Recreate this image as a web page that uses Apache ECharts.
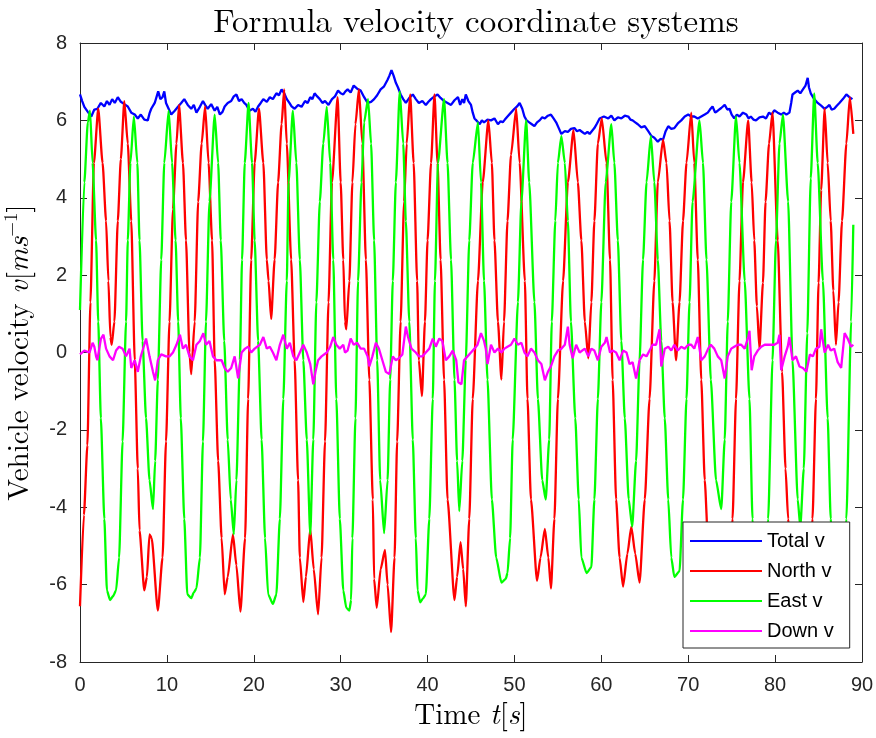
<!DOCTYPE html>
<html>
<head>
<meta charset="utf-8">
<script src="https://cdn.jsdelivr.net/npm/echarts@6/dist/echarts.min.js"></script>
<style>
  html, body { margin: 0; padding: 0; background: #ffffff; }
  #chart { width: 876px; height: 738px; }
</style>
</head>
<body>
<div id="chart"></div>
<script>
// Axis ranges and tick steps
const timeRange = [0, 90];
const timeStep = 10;
const velRange = [-8, 8];
const velStep = 2;

const seriesNames = ['Total v', 'North v', 'East v', 'Down v'];

// [time s, velocity m/s]
const totalV = [
  [0,6.67],[0.25,6.5],[0.5,6.35],[0.9,6.22],[1.3,6.1],[1.65,6.28],[2.0,6.3],[2.4,6.45],[2.8,6.36],[3.1,6.5],
  [3.4,6.4],[3.7,6.55],[4.0,6.45],[4.35,6.6],[4.7,6.48],[5.1,6.42],[5.5,6.36],[5.9,6.2],[6.3,6.15],[6.65,6.05],
  [7.0,6.15],[7.4,6.02],[7.8,6.0],[8.0,6.18],[8.2,6.3],[8.6,6.45],[9.0,6.75],[9.25,6.55],[9.5,6.6],[9.7,6.75],
  [9.9,6.45],[10.2,6.3],[10.5,6.15],[10.9,6.25],[11.3,6.36],[11.65,6.45],[12.0,6.55],[12.4,6.4],[12.8,6.3],[13.1,6.4],
  [13.4,6.2],[13.8,6.35],[14.15,6.5],[14.4,6.4],[14.7,6.3],[15.1,6.42],[15.5,6.25],[15.8,6.35],[16.1,6.15],[16.4,6.22],
  [16.65,6.36],[17.0,6.45],[17.4,6.5],[17.7,6.62],[18.0,6.67],[18.3,6.5],[18.6,6.55],[18.9,6.45],[19.15,6.4],[19.5,6.25],
  [19.9,6.3],[20.2,6.22],[20.5,6.36],[20.8,6.45],[21.1,6.55],[21.5,6.48],[21.85,6.6],[22.2,6.55],[22.6,6.7],[22.9,6.65],
  [23.2,6.8],[23.5,6.7],[23.8,6.55],[24.1,6.45],[24.35,6.36],[24.7,6.3],[25.1,6.4],[25.5,6.35],[25.9,6.5],[26.2,6.45],
  [26.5,6.6],[26.75,6.55],[27.0,6.7],[27.3,6.62],[27.6,6.55],[27.9,6.45],[28.2,6.5],[28.6,6.4],[29.0,6.55],[29.35,6.62],
  [29.7,6.77],[30.0,6.7],[30.3,6.67],[30.55,6.75],[30.8,6.8],[31.15,6.72],[31.5,6.9],[31.9,6.82],[32.3,6.77],[32.7,6.6],
  [33.1,6.45],[33.5,6.48],[33.85,6.55],[34.2,6.65],[34.6,6.8],[35.0,6.88],[35.4,7.05],[35.6,7.15],[35.85,7.3],[36.1,7.15],
  [36.35,6.97],[36.6,6.85],[36.9,6.67],[37.2,6.55],[37.5,6.45],[37.9,6.58],[38.3,6.67],[38.65,6.55],[39.0,6.45],[39.4,6.5],
  [39.8,6.4],[40.1,6.48],[40.4,6.55],[40.8,6.62],[41.15,6.67],[41.5,6.58],[41.9,6.5],[42.3,6.45],[42.7,6.4],[43.1,6.52],
  [43.5,6.6],[43.75,6.4],[44.0,6.55],[44.2,6.45],[44.4,6.67],[44.7,6.5],[45.0,6.4],[45.2,6.2],[45.4,6.05],[45.7,5.98],
  [46.0,5.9],[46.25,6.0],[46.5,5.95],[46.9,6.02],[47.3,6.0],[47.7,6.05],[48.1,5.9],[48.4,5.98],[48.65,5.95],[48.9,6.02],
  [49.2,6.1],[49.6,6.2],[50.0,6.3],[50.3,6.36],[50.6,6.45],[50.9,6.3],[51.15,6.1],[51.4,6.0],[51.7,5.95],[52.0,5.9],
  [52.3,5.85],[52.6,5.95],[52.9,6.0],[53.2,6.08],[53.5,6.05],[53.85,6.12],[54.2,6.15],[54.5,6.05],[54.8,5.95],[55.1,5.8],
  [55.4,5.65],[55.8,5.72],[56.15,5.7],[56.5,5.78],[56.9,5.8],[57.2,5.72],[57.5,5.75],[57.8,5.7],[58.1,5.65],[58.4,5.7],
  [58.65,5.65],[58.9,5.72],[59.2,5.8],[59.5,5.92],[59.8,6.05],[60.3,6.1],[60.8,6.05],[61.15,6.12],[61.5,6.0],[61.9,6.08],
  [62.3,6.05],[62.7,6.12],[63.1,6.1],[63.35,6.02],[63.6,6.0],[63.9,5.95],[64.2,5.9],[64.6,5.82],[65.0,5.85],[65.4,5.72],
  [65.75,5.6],[66.1,5.55],[66.5,5.45],[66.8,5.52],[67.1,5.5],[67.4,5.72],[67.7,5.85],[68.05,5.78],[68.4,5.8],[68.8,5.92],
  [69.2,6.0],[69.6,6.1],[70.0,6.15],[70.35,6.1],[70.7,6.1],[71.1,6.05],[71.5,6.1],[71.9,6.15],[72.25,6.2],[72.5,6.28],
  [72.8,6.36],[73.1,6.2],[73.4,6.25],[73.8,6.32],[74.2,6.4],[74.5,6.28],[74.75,6.3],[75.0,6.15],[75.3,6.05],[75.6,6.15],
  [75.9,6.1],[76.3,6.2],[76.7,6.15],[76.95,6.05],[77.2,6.1],[77.5,6.02],[77.8,6.0],[78.2,6.08],[78.6,6.1],[78.95,6.05],
  [79.3,6.2],[79.6,6.15],[79.9,6.26],[80.3,6.2],[80.7,6.15],[81.0,6.2],[81.3,6.15],[81.5,6.15],[81.65,6.2],[81.85,6.45],
  [82.0,6.67],[82.3,6.72],[82.6,6.77],[82.9,6.7],[83.2,6.8],[83.5,6.9],[83.75,7.1],[83.9,6.85],[84.1,6.7],[84.5,6.55],
  [84.9,6.45],[85.3,6.38],[85.7,6.3],[86.0,6.35],[86.25,6.4],[86.5,6.28],[86.8,6.3],[87.1,6.38],[87.4,6.45],[87.8,6.55],
  [88.2,6.67],[88.55,6.6],[88.9,6.55]
];

const northV = [
  [0,-6.56],[0.45,-4.2],[0.85,-2.4],[1.2,1.3],[1.6,4.9],[2.1,6.3],[2.6,4.9],[3.0,3.4],[3.27,1.85],[3.5,0.4],
  [3.65,0.2],[3.96,0.8],[4.35,3.4],[4.7,5.0],[5.1,6.5],[5.5,5.4],[5.9,3.4],[6.3,-0.2],[6.65,-3.0],[6.85,-4.6],
  [7.4,-6.15],[7.7,-5.8],[8.0,-4.7],[8.25,-4.8],[8.96,-6.67],[9.5,-5.3],[9.9,-2.3],[10.3,0.8],[10.7,3.7],[11.1,5.4],
  [11.4,6.4],[11.85,4.9],[12.2,2.9],[12.6,0],[12.8,-0.56],[13.2,0.8],[13.6,3.9],[14.0,5.4],[14.4,6.36],[14.8,4.9],
  [15.2,2.9],[15.5,-0.2],[15.9,-2.8],[16.3,-4.8],[16.65,-6.25],[17.0,-5.8],[17.6,-4.7],[18.0,-5.5],[18.46,-6.7],[19.0,-4.8],
  [19.35,-1.2],[19.7,2.4],[20.1,4.9],[20.6,6.3],[21.1,4.9],[21.5,2.4],[21.7,1.85],[22.0,0.87],[22.4,2.4],[22.8,4.4],
  [23.2,5.9],[23.5,6.8],[23.8,5.4],[24.3,2.4],[24.7,-0.2],[25.1,-3.3],[25.3,-5.3],[25.7,-6.45],[26.0,-5.8],[26.5,-4.56],
  [26.9,-5.6],[27.4,-6.77],[27.8,-5.3],[28.2,-2.3],[28.6,1.3],[29.0,4.4],[29.65,6.6],[30.0,4.4],[30.3,2.4],[30.5,0.8],
  [30.65,0.6],[31.0,1.85],[31.35,4.4],[31.7,5.9],[32.1,6.8],[32.5,5.4],[32.9,2.4],[33.3,-0.7],[33.7,-3.8],[33.85,-5.85],
  [34.15,-6.6],[34.6,-5.6],[35.1,-5.1],[35.4,-6.0],[35.8,-7.23],[36.2,-5.3],[36.5,-2.3],[36.9,0.8],[37.3,3.9],[37.6,5.4],
  [38.0,6.67],[38.4,4.9],[38.8,1.85],[39.0,-0.2],[39.35,-1.13],[39.7,0.8],[40.0,2.9],[40.4,4.9],[40.8,6.67],[41.15,4.9],
  [41.5,2.4],[41.9,-0.7],[42.3,-3.8],[43.1,-6.4],[43.4,-5.8],[43.8,-4.9],[44.1,-5.6],[44.4,-6.56],[44.8,-4.3],[45.2,-1.2],
  [45.8,1.85],[46.35,4.4],[47.0,6.0],[47.4,4.9],[47.7,2.9],[48.1,0.8],[48.5,-0.7],[48.8,0.8],[49.2,3.4],[49.6,5.1],
  [50.2,6.3],[50.6,4.9],[51.2,1.85],[51.5,-1.2],[51.9,-3.8],[52.6,-5.9],[53.0,-5.3],[53.5,-4.56],[53.9,-5.3],[54.2,-6.1],
  [54.6,-4.3],[55.0,-1.2],[55.6,1.85],[56.15,4.4],[56.8,5.75],[57.3,4.4],[57.7,2.9],[58.1,0.8],[58.5,-0.15],[58.85,1.3],
  [59.2,3.4],[59.6,5.4],[60.05,6.05],[60.6,4.9],[61.0,2.4],[61.3,-0.7],[61.7,-3.8],[62.1,-5.3],[62.5,-6.05],[63.0,-5.2],
  [63.45,-4.5],[63.9,-5.2],[64.4,-5.95],[65.0,-3.8],[65.55,-1.2],[66.1,1.85],[66.5,4.4],[67.1,5.5],[67.5,4.9],[67.85,3.4],
  [68.2,1.3],[68.6,-0.2],[69.0,1.3],[69.4,3.4],[69.8,4.9],[70.35,6.2],[70.7,4.9],[71.1,2.4],[71.5,-0.7],[71.9,-3.3],
  [72.3,-5.0],[72.8,-6.2],[73.3,-5.3],[73.8,-4.6],[74.3,-5.5],[74.7,-6.3],[75.1,-4.3],[75.5,-1.2],[75.9,1.85],[76.3,4.4],
  [76.9,6.0],[77.3,4.4],[77.6,2.9],[77.9,1.2],[78.2,0.1],[78.6,1.8],[78.9,3.9],[79.3,5.4],[79.7,6.2],[80.3,2.9],
  [80.8,-0.5],[81.2,-3.0],[81.5,-4.3],[82.0,-6.2],[82.5,-5.3],[83.0,-4.7],[83.5,-5.6],[83.9,-6.4],[84.3,-4.3],[84.7,-1.2],
  [85.0,1.8],[85.3,4.2],[85.7,6.3],[86.05,4.9],[86.4,3.4],[86.7,1.6],[87.0,0.2],[87.3,1.3],[87.7,3.4],[88.2,5.4],
  [88.6,6.6],[89.0,5.65]
];

const eastV = [
  [0,1.1],[0.5,4.4],[0.9,5.95],[1.15,6.25],[1.45,4.9],[1.85,2.9],[2.1,0.8],[2.4,-1.7],[2.8,-4.3],[3.1,-6.15],
  [3.46,-6.4],[3.8,-6.3],[4.15,-6.15],[4.5,-5.3],[4.9,-2.3],[5.3,0.8],[5.5,2.9],[5.8,4.9],[6.2,6.1],[6.6,4.9],
  [6.85,2.9],[7.2,0.3],[7.6,-1.7],[8.0,-3.3],[8.4,-4.05],[8.65,-2.8],[8.96,-0.7],[9.35,2.4],[9.7,4.9],[10.2,6.25],
  [10.6,4.9],[11.0,2.9],[11.3,0.8],[11.6,-1.7],[12.0,-4.3],[12.35,-6.25],[12.8,-6.35],[13.1,-6.2],[13.4,-6.1],[13.8,-5.3],
  [14.15,-2.3],[14.5,0.8],[14.9,3.9],[15.5,6.15],[15.9,4.9],[16.2,2.9],[16.6,0.3],[17.0,-2.25],[17.35,-3.8],[17.7,-4.7],
  [18.0,-3.3],[18.4,-0.2],[18.65,2.4],[18.96,4.9],[19.4,6.45],[19.8,4.9],[20.1,2.9],[20.5,0.3],[20.9,-2.25],[21.3,-4.8],
  [21.65,-6.25],[22.2,-6.5],[22.6,-6.25],[23.0,-4.3],[23.4,-1.2],[23.8,1.85],[24.0,4.4],[24.5,6.25],[24.9,4.9],[25.3,2.4],
  [25.7,-0.2],[26.1,-2.25],[26.5,-4.7],[26.85,-2.25],[27.2,1.3],[27.6,3.9],[28.0,5.4],[28.4,6.35],[28.8,4.9],[29.15,2.4],
  [29.5,-1.2],[29.9,-4.3],[30.3,-6.15],[30.65,-6.6],[31.0,-6.67],[31.2,-6.4],[31.35,-4.8],[31.7,-1.7],[32.0,1.85],[32.4,4.4],
  [32.7,5.95],[33.15,6.55],[33.5,5.4],[33.85,2.9],[34.2,-0.2],[34.55,-3.3],[35.0,-4.67],[35.4,-3.3],[35.7,-0.7],[36.0,1.85],
  [36.35,4.4],[36.8,6.75],[37.2,5.4],[37.5,3.4],[37.9,0.8],[38.3,-2.25],[38.65,-4.8],[38.85,-6.15],[39.15,-6.46],[39.5,-6.35],
  [39.8,-6.25],[40.2,-4.3],[40.6,-1.2],[40.85,1.85],[41.2,4.9],[41.9,6.55],[42.3,4.9],[42.7,2.4],[43.1,-0.7],[43.4,-2.8],
  [43.65,-4.1],[44.0,-2.8],[44.4,-0.2],[44.8,2.9],[45.2,4.9],[45.8,5.95],[46.15,4.4],[46.5,1.85],[46.9,-0.7],[47.4,-3.8],
  [47.9,-5.3],[48.5,-5.95],[49.0,-5.85],[49.2,-5.7],[49.5,-4.8],[49.8,-2.25],[50.4,1.3],[50.8,3.9],[51.35,6.0],[51.7,4.4],
  [52.3,1.3],[52.7,-1.2],[53.2,-3.3],[53.6,-3.8],[54.0,-2.25],[54.3,0.8],[54.7,3.4],[55.0,4.9],[55.4,5.6],[55.8,4.9],
  [56.15,3.4],[56.5,0.8],[57.0,-1.7],[57.4,-3.8],[57.7,-5.3],[58.3,-5.7],[58.85,-5.55],[59.2,-3.8],[59.6,-1.2],[60.0,1.3],
  [60.5,4.4],[61.15,5.9],[61.5,4.9],[61.9,2.9],[62.3,0.3],[62.7,-1.7],[63.15,-3.8],[63.55,-4.5],[64.0,-2.8],[64.4,-0.2],
  [64.8,2.4],[65.2,4.4],[65.7,5.6],[66.1,4.4],[66.5,2.4],[66.9,0.3],[67.3,-1.7],[67.7,-3.8],[68.05,-5.3],[68.4,-5.8],
  [69.0,-5.65],[69.4,-3.8],[69.8,-1.2],[70.15,1.3],[70.5,3.9],[71.3,6.0],[71.7,4.9],[72.1,2.4],[72.6,-0.7],[73.2,-3.3],
  [73.8,-4.05],[74.2,-2.25],[74.55,0.8],[74.95,3.9],[75.5,6.1],[75.9,4.9],[76.5,1.85],[77.05,-1.2],[77.4,-4.3],[77.8,-5.7],
  [78.3,-6.0],[78.8,-5.6],[79.2,-4.3],[79.7,-0.2],[80.1,2.9],[80.5,5.4],[80.9,6.15],[81.5,3.9],[82.0,-0.2],[82.6,-3.8],
  [82.9,-4.5],[83.3,-3.0],[83.7,0.5],[84.1,4.5],[84.5,6.7],[84.9,4.9],[85.5,1.85],[86.05,-1.7],[86.4,-4.3],[86.8,-5.8],
  [87.3,-6.0],[87.8,-5.5],[88.2,-4.3],[88.75,0.8],[89.0,3.3]
];

const downV = [
  [0,-0.05],[0.5,0.05],[1.1,0],[1.45,0.25],[1.65,0.15],[1.85,-0.1],[2.0,-0.2],[2.4,0.35],[2.7,0.46],[3.0,0.1],
  [3.4,-0.1],[3.8,-0.2],[4.15,0.05],[4.5,0.15],[4.9,0.1],[5.3,-0.1],[5.7,0.1],[5.9,-0.4],[6.3,-0.2],[6.65,-0.5],
  [7.0,-0.1],[7.4,0.2],[7.6,0.36],[8.0,-0.1],[8.4,-0.5],[8.65,-0.72],[8.96,-0.2],[9.35,-0.05],[9.9,-0.1],[10.3,-0.1],
  [10.7,0],[11.1,0.2],[11.5,0.46],[11.85,0.1],[12.2,0.2],[12.6,-0.1],[13.0,-0.2],[13.4,0.2],[13.8,0.3],[14.2,0.5],
  [14.5,0.2],[14.9,0.3],[15.3,-0.1],[15.7,-0.2],[16.3,-0.2],[16.65,-0.4],[17.0,-0.5],[17.4,-0.4],[17.8,-0.1],[18.2,-0.67],
  [18.6,0],[19.0,0.1],[19.35,0.15],[19.7,0],[20.1,0.1],[20.7,0.2],[21.1,0.4],[21.5,0.1],[21.85,0.15],[22.2,0],
  [22.6,-0.2],[23.0,0.2],[23.4,0.46],[23.8,0.1],[24.15,0.25],[24.55,-0.1],[24.9,-0.2],[25.3,0],[25.7,0.2],[26.1,0],
  [26.5,-0.3],[26.85,-0.82],[27.1,-0.5],[27.4,-0.2],[27.8,-0.1],[28.4,0],[28.8,0.15],[29.15,0.4],[29.5,0.2],[29.9,0.1],
  [30.3,0.2],[30.5,0],[30.8,0.05],[31.15,0.36],[31.5,0.2],[31.9,0.25],[32.3,0.1],[32.7,0.1],[33.1,-0.1],[33.3,-0.36],
  [33.65,-0.1],[34.05,0.25],[34.4,0.1],[34.8,-0.2],[35.2,-0.5],[35.6,-0.56],[36.0,-0.1],[36.35,-0.2],[36.7,-0.15],[37.1,-0.05],
  [37.5,0.67],[37.75,0.4],[38.15,0.1],[38.65,0],[39.0,-0.1],[39.4,-0.1],[39.8,0],[40.2,0.1],[40.6,0.36],[40.95,0.15],
  [41.35,0.36],[41.7,0.3],[42.1,-0.2],[42.5,-0.1],[42.9,0.05],[43.3,-0.2],[43.55,-0.77],[43.9,-0.82],[44.2,-0.2],[44.6,-0.1],
  [45.0,0],[45.4,0.1],[45.75,0.2],[46.15,0.5],[46.5,0.3],[46.7,0.1],[46.9,-0.3],[47.3,0.2],[47.7,0],[48.1,0.1],
  [48.5,0],[48.85,0.1],[49.2,0.15],[49.6,0.2],[50.0,0.36],[50.4,0.2],[50.8,0.25],[51.15,0],[51.5,-0.1],[51.9,0.1],
  [52.3,0],[52.7,-0.2],[53.1,-0.3],[53.5,-0.72],[53.85,-0.5],[54.2,-0.36],[54.6,-0.1],[55.0,0.05],[55.4,0.1],[55.8,0.2],
  [56.15,0.67],[56.35,0.2],[56.7,-0.15],[57.1,0.2],[57.5,0],[58.1,0.1],[58.5,-0.1],[58.85,0.1],[59.2,0.05],[59.6,-0.2],
  [60.0,0.15],[60.4,0.25],[60.6,0.4],[61.0,0],[61.3,0.05],[61.7,0],[62.1,-0.2],[62.5,0.05],[62.9,0],[63.25,-0.3],
  [63.6,-0.25],[64.0,-0.67],[64.4,-0.2],[64.8,-0.05],[65.2,-0.1],[65.55,0.05],[65.9,0.2],[66.3,0.2],[66.7,0.6],[66.9,-0.36],
  [67.3,0.1],[67.7,0.15],[68.05,0.05],[68.4,0.2],[68.8,0.05],[69.2,0.15],[69.6,0.1],[70.0,0.2],[70.35,0.2],[70.7,0.1],
  [71.1,0.4],[71.5,-0.2],[71.9,-0.1],[72.3,0.1],[72.6,0.2],[73.0,0.1],[73.4,-0.1],[73.8,-0.2],[74.2,-0.67],[74.55,-0.1],
  [74.95,0.1],[75.3,0.15],[75.7,0.2],[76.1,0.2],[76.5,0.1],[76.9,0.4],[77.05,0.56],[77.3,-0.46],[77.6,-0.1],[78.0,0.05],
  [78.4,0.15],[78.8,0.2],[79.35,0.2],[79.9,0.2],[80.3,0.25],[80.5,0.46],[80.7,-0.46],[81.1,-0.1],[81.45,0.15],[81.65,0.4],
  [82.0,-0.2],[82.4,-0.1],[82.8,-0.36],[83.2,-0.4],[83.6,-0.5],[84.0,-0.05],[84.35,-0.1],[84.7,0.1],[85.1,0.15],[85.3,0.6],
  [85.7,0],[86.1,0.2],[86.4,0.05],[86.8,0.1],[87.2,-0.25],[87.6,-0.4],[88.0,0.5],[88.35,0.36],[88.75,0.15],[89.0,0.2]
];

const seriesColors = ['#0000ff', '#ff0000', '#00ff00', '#ff00ff'];
const seriesData = [totalV, northV, eastV, downV];

const axisColor = '#262626';
const sansFont = '"Liberation Sans", Arial, Helvetica, sans-serif';
const serifFont = '"Latin Modern Roman", "CMU Serif", "Liberation Serif", "Times New Roman", serif';

// One side of the boxed axes; only bottom and left carry labels
function boxAxis(position, range, step, showLabels) {
  return {
    type: 'value',
    position: position,
    min: range[0],
    max: range[1],
    interval: step,
    axisLine: { show: true, onZero: false, lineStyle: { color: axisColor, width: 1 } },
    axisTick: { show: true, inside: true, length: 7, lineStyle: { color: axisColor, width: 1 } },
    axisLabel: {
      show: showLabels,
      color: axisColor,
      fontFamily: sansFont,
      fontSize: 20,
      margin: 13
    },
    splitLine: { show: false }
  };
}

const chart = echarts.init(document.getElementById('chart'), null, { renderer: 'canvas' });

const xMain = boxAxis('bottom', timeRange, timeStep, true);
xMain.name = '{r|Time }{i|t}{r|[}{i|s}{r|]}';
xMain.nameLocation = 'middle';
xMain.nameGap = 39;
xMain.nameTextStyle = {
  rich: {
    r: { fontFamily: serifFont, fontSize: 29, color: '#000' },
    i: { fontFamily: serifFont, fontSize: 29, fontStyle: 'italic', color: '#000' }
  }
};

const yMain = boxAxis('left', velRange, velStep, true);
yMain.name = '{r|Vehicle velocity }{i|v}{r|[}{i|ms}{s|\u22121}{r|]}';
yMain.nameLocation = 'middle';
yMain.nameRotate = 90;
yMain.nameGap = 44;
yMain.nameTextStyle = {
  rich: {
    r: { fontFamily: serifFont, fontSize: 29, color: '#000', lineHeight: 34 },
    i: { fontFamily: serifFont, fontSize: 29, fontStyle: 'italic', color: '#000', lineHeight: 34 },
    s: { fontFamily: serifFont, fontSize: 19, color: '#000', verticalAlign: 'top', lineHeight: 34, padding: [0, 0, 14, 0] }
  }
};

chart.setOption({
  animation: false,
  backgroundColor: '#ffffff',
  title: {
    text: 'Formula velocity coordinate systems',
    left: 471,
    top: 0,
    textAlign: 'center',
    textStyle: { fontFamily: serifFont, fontSize: 33, fontWeight: 'normal', color: '#000' }
  },
  grid: {
    left: 80,
    right: 14,
    top: 43,
    bottom: 76,
    containLabel: false,
    outerBoundsMode: 'none',
    show: false
  },
  xAxis: [xMain, boxAxis('top', timeRange, timeStep, false)],
  yAxis: [yMain, boxAxis('right', velRange, velStep, false)],
  legend: {
    data: seriesNames,
    orient: 'vertical',
    left: 683,
    top: 522,
    padding: [9, 16, 7, 7],
    itemWidth: 72,
    itemHeight: 2,
    itemGap: 10,
    icon: 'rect',
    selectedMode: false,
    backgroundColor: '#ffffff',
    borderColor: axisColor,
    borderWidth: 1,
    borderRadius: 0,
    textStyle: { fontFamily: sansFont, fontSize: 20, color: '#000', lineHeight: 20 }
  },
  series: seriesNames.map((name, i) => ({
    name: name,
    type: 'line',
    data: seriesData[i],
    xAxisIndex: 0,
    yAxisIndex: 0,
    symbol: 'none',
    showSymbol: false,
    smooth: (i === 1 || i === 2) ? 0.2 : false,
    smoothMonotone: 'x',
    color: seriesColors[i],
    lineStyle: { color: seriesColors[i], width: 2.3 },
    itemStyle: { color: seriesColors[i] },
    emphasis: { disabled: true },
    clip: true
  }))
});
</script>
</body>
</html>
